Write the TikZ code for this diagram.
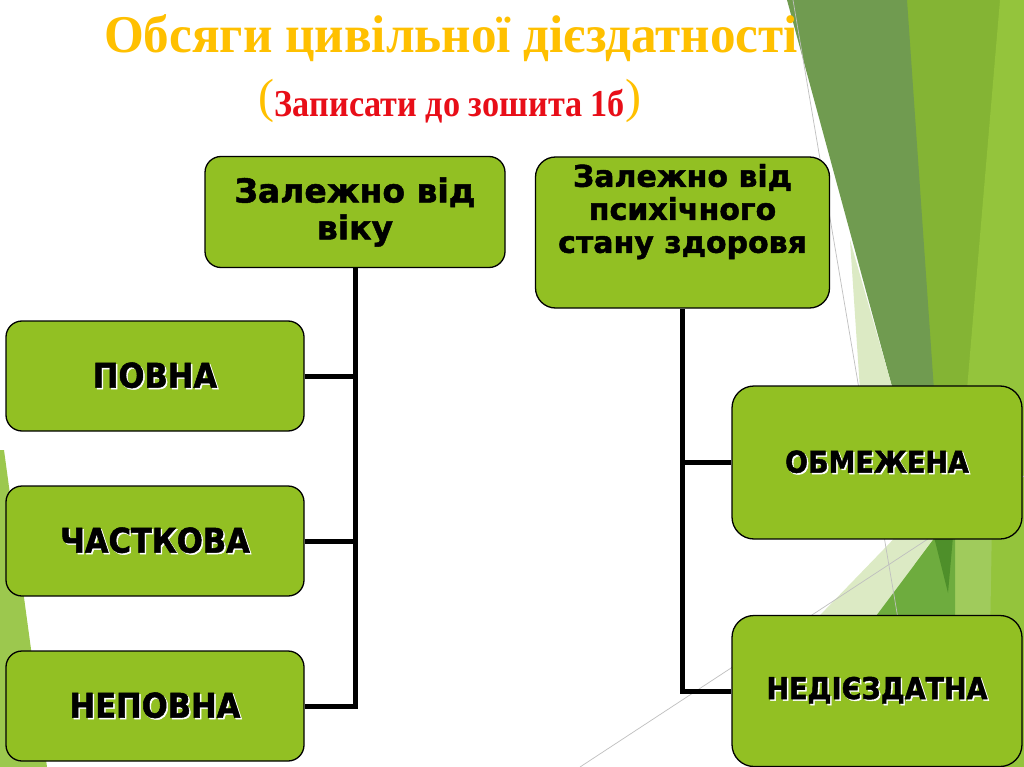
\documentclass[tikz,border=0pt]{standalone}
\usepackage{fontspec}
\setmainfont{Liberation Serif}
\newfontfamily\boxfont{DejaVu Sans}[BoldFeatures={FakeBold=1.5}]
\newfontfamily\capsfont{DejaVu Sans}[FakeStretch=0.9, BoldFeatures={FakeBold=1.5}]
\usetikzlibrary{positioning}

\definecolor{boxgreen}{RGB}{146,192,35}
\definecolor{titlegold}{RGB}{255,192,0}
\definecolor{notered}{RGB}{232,14,24}
\definecolor{facetbright}{RGB}{148,196,60}
\definecolor{facetmid}{RGB}{132,180,52}
\definecolor{facetdark}{RGB}{112,155,80}
\definecolor{facetdeep}{RGB}{78,143,42}
\definecolor{facetpale}{RGB}{220,234,196}
\definecolor{facetgrass}{RGB}{110,172,62}
\definecolor{facetsoft}{RGB}{160,203,92}
\definecolor{facetleft}{RGB}{156,200,78}

% white offset copy behind the capitals
\newcommand\shadowcap[1]{\leavevmode\rlap{\hspace{1.5pt}\raisebox{-1.5pt}{\textcolor{white}{#1}}}#1}
\newcommand\goldparen[1]{\raisebox{4pt}{\fontsize{48}{50}\selectfont\mdseries\textcolor{titlegold}{#1}}}

\begin{document}
\begin{tikzpicture}[x=1pt,y=-1pt,
    box/.style={draw=black, line width=1.3pt, fill=boxgreen, align=center, inner sep=0pt},
    headbox/.style={box, rounded corners=16pt, minimum width=300pt, minimum height=111pt,
        font=\boxfont\bfseries\fontsize{33}{37}\selectfont},
    kindbox/.style={box, rounded corners=16pt, minimum width=298pt, minimum height=110pt,
        font=\capsfont\bfseries\fontsize{34}{38}\selectfont},
    statebox/.style={kindbox, rounded corners=22pt, minimum width=290pt,
        font=\capsfont\bfseries\fontsize{30}{34}\selectfont},
    link/.style={line width=5pt, black},
    facetline/.style={line width=0.7pt, black!25}]
    \useasboundingbox (0,0) rectangle (1024,767);
    \fill[white] (0,0) rectangle (1024,767);

    % Background facets
    \fill[facetleft] (0,450) -- (4,450) -- (47,767) -- (0,767) -- cycle;
    \fill[facetmid] (900,0) -- (1002,0) -- (935,767) -- (920,767) -- cycle;
    \fill[facetbright] (1000,0) -- (1024,0) -- (1024,767) -- (935,767) -- cycle;
    \fill[facetsoft] (953,520) -- (992,520) -- (990,640) -- (953,640) -- cycle;
    \fill[facetdark] (787,0) -- (907,0) -- (948,593) -- cycle;
    \fill[facetpale] (850,240) -- (893,390) -- (860,390) -- cycle;
    \fill[facetpale] (796,640) -- (912,520) -- (948,520) -- (858,640) -- cycle;
    \fill[facetgrass] (858,640) -- (948,520) -- (955,520) -- (955,640) -- cycle;
    \fill[facetdeep] (931,525) -- (954,525) -- (948,593) -- cycle;
    \draw[facetline] (793,0) -- (905,660);
    \draw[facetline] (580,767) -- (1024,476);

    % Title
    \node[anchor=base, text=titlegold, font=\bfseries\fontsize{53}{60}\selectfont] (title) at (451,53)
        {\scalebox{0.965}[1]{Обсяги цивільної дієздатності}};
    \node[anchor=base, font=\bfseries\fontsize{38}{44}\selectfont] (note) at (450,117)
        {\goldparen{(}\scalebox{0.9}[1]{\textcolor{notered}{Записати до зошита 1б}}\goldparen{)}};

    % Criteria
    \node[headbox] (age) at (355,212) {Залежно від\\віку};
    \node[headbox, rounded corners=20pt, minimum width=294pt, minimum height=151pt,
        font=\boxfont\bfseries\fontsize{30}{33}\selectfont] (mental) at (682.5,232.5)
        {\parbox[c][151pt][t]{290pt}{\centering\vspace*{7pt}Залежно від\\психічного\\стану здоровя}};

    % Kinds by age
    \node[kindbox] (full) at (155,376) {\shadowcap{ПОВНА}};
    \node[kindbox] (partial) at (155,541) {\shadowcap{ЧАСТКОВА}};
    \node[kindbox] (minor) at (155,706) {\shadowcap{НЕПОВНА}};

    % Kinds by mental state
    \node[statebox, minimum height=153pt] (limited) at (877,462.5) {\shadowcap{ОБМЕЖЕНА}};
    \node[statebox, minimum height=151pt] (incapable) at (877,691) {\shadowcap{НЕДІЄЗДАТНА}};

    % Connectors
    \draw[link] (age.south) |- (minor.east);
    \draw[link] (full.east) -- (full.east -| age.south);
    \draw[link] (partial.east) -- (partial.east -| age.south);
    \draw[link] (mental.south) |- (incapable.west);
    \draw[link] (limited.west) -- (limited.west -| mental.south);
\end{tikzpicture}
\end{document}
